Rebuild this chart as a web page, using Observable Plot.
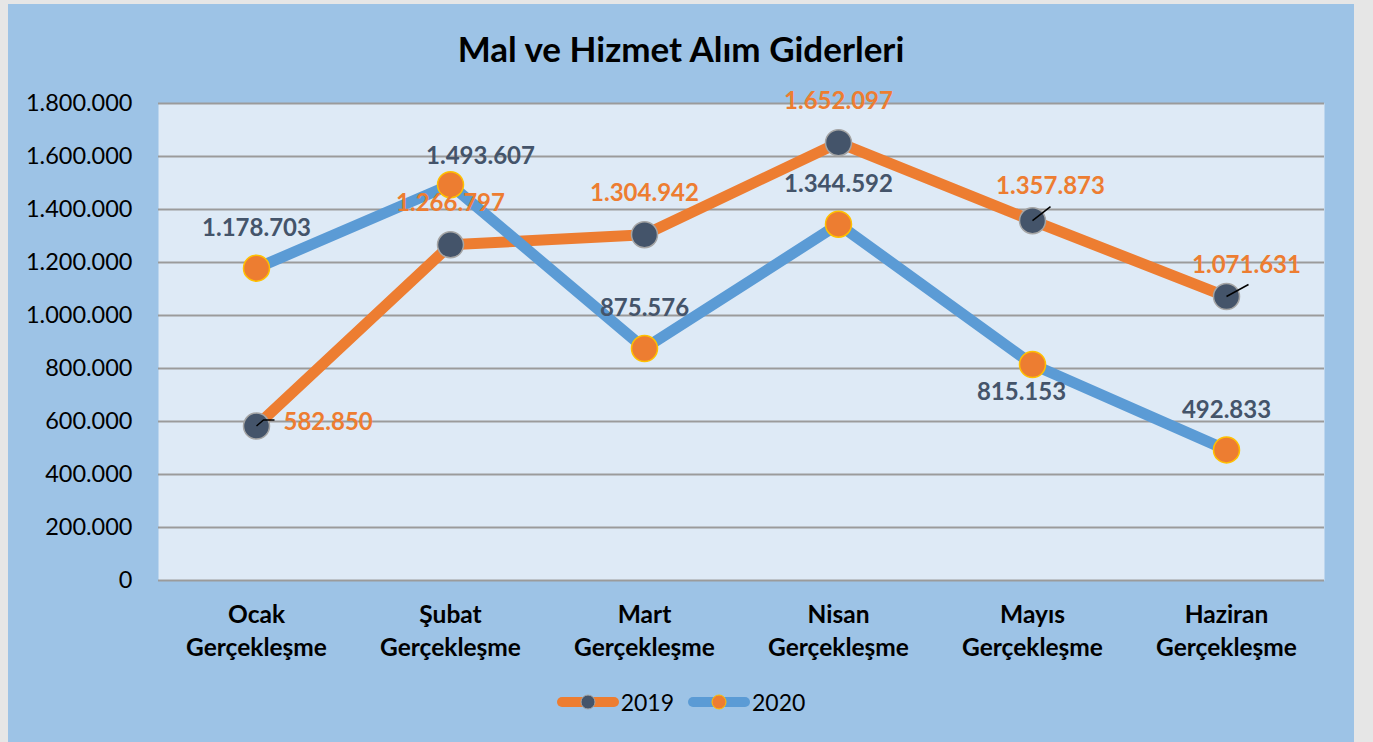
<!DOCTYPE html>
<html>
<head>
<meta charset="utf-8">
<script src="https://cdn.jsdelivr.net/npm/d3@7"></script>
<script src="https://cdn.jsdelivr.net/npm/@observablehq/plot@0.6"></script>
<style>
  html, body { margin: 0; padding: 0; background: #E6E6E6; width: 1373px; height: 742px; overflow: hidden; font-family: Lato, "Open Sans", sans-serif; }
  #panel { position: absolute; left: 8px; top: 4px; width: 1346px; height: 740px; background: #9DC3E6; }
  #title { position: absolute; left: 0; width: 1346px; top: 24px; text-align: center; font-weight: bold; font-size: 35px; color: #000; line-height: 40px; }
  #chart { position: absolute; left: 0; top: 60px; }
  #legend { position: absolute; top: 684px; left: 0; width: 1346px; display: flex; justify-content: center; align-items: center; gap: 14px; font-size: 23px; color: #000; }
  .item { display: flex; align-items: center; gap: 2px; }
</style>
</head>
<body>
<div id="panel">
  <div id="title">Mal ve Hizmet Alım Giderleri</div>
  <div id="chart"></div>
  <div id="legend"></div>
</div>
<script>
const months = ["Ocak", "Şubat", "Mart", "Nisan", "Mayıs", "Haziran"];
const values2019 = [582850, 1266797, 1304942, 1652097, 1357873, 1071631];
const values2020 = [1178703, 1493607, 875576, 1344592, 815153, 492833];
const yTicks = [0, 200000, 400000, 600000, 800000, 1000000, 1200000, 1400000, 1600000, 1800000];
const seriesNames = ["2019", "2020"];

const c = {
  orange: "#ED7D31", blue: "#5B9BD5", slate: "#44546A",
  gold: "#FFC000", markerEdge: "#A5A5A5", plotBg: "#DEEAF6", grid: "#9B9B9B"
};

const tr = d3.formatLocale({decimal: ",", thousands: ".", grouping: [3], currency: ["", ""]});
const fmt = tr.format(",d");

const d19 = months.map((m, i) => ({month: m, value: values2019[i]}));
const d20 = months.map((m, i) => ({month: m, value: values2020[i]}));

const leader = pts => ({draw(ctx) { ctx.moveTo(0, 0); pts.forEach(([a, b]) => ctx.lineTo(a, b)); }});

const lbl = {fontSize: 24, fontWeight: "bold", fontFamily: "Lato, 'Open Sans', sans-serif", text: d => fmt(d.value)};
const pick = names => d => names.includes(d.month);

const chart = Plot.plot({
  width: 1346,
  height: 610,
  marginTop: 39,
  marginBottom: 94,
  marginLeft: 150,
  marginRight: 30,
  style: {background: "transparent", fontFamily: "Lato, 'Open Sans', sans-serif"},
  x: {type: "point", domain: months, padding: 0.5},
  y: {domain: [0, 1800000]},
  marks: [
    Plot.frame({fill: c.plotBg, stroke: null}),
    Plot.gridY(yTicks, {stroke: c.grid, strokeOpacity: 1, strokeWidth: 2}),
    Plot.axisY(yTicks, {tickSize: 0, tickPadding: 26, fontSize: 23.5, tickFormat: fmt, fill: "#000", label: null}),
    Plot.axisX({tickSize: 0, tickPadding: 19, fontSize: 24.5, fontWeight: "bold", lineHeight: 1.35, fill: "#000", label: null,
      tickFormat: d => d + "\nGerçekleşme"}),
    Plot.line(d19, {x: "month", y: "value", stroke: c.orange, strokeWidth: 11, strokeLinejoin: "round"}),
    Plot.dot(d19, {x: "month", y: "value", r: 13, fill: c.slate, stroke: c.markerEdge, strokeWidth: 1.5}),
    Plot.line(d20, {x: "month", y: "value", stroke: c.blue, strokeWidth: 11, strokeLinejoin: "round"}),
    Plot.dot(d20, {x: "month", y: "value", r: 13, fill: c.orange, stroke: c.gold, strokeWidth: 1.5}),
    // leader lines
    Plot.dot(d19, {filter: pick(["Ocak"]), x: "month", y: "value", r: 1, symbol: leader([[7, -6], [18, -6]]), fill: "none", stroke: "#000", strokeWidth: 1.5}),
    Plot.dot(d19, {filter: pick(["Mayıs"]), x: "month", y: "value", r: 1, symbol: leader([[18, -14]]), fill: "none", stroke: "#000", strokeWidth: 1.5}),
    Plot.dot(d19, {filter: pick(["Haziran"]), x: "month", y: "value", r: 1, symbol: leader([[22, -12]]), fill: "none", stroke: "#000", strokeWidth: 1.5}),
    // 2019 labels
    Plot.text(d19, {...lbl, filter: pick(["Ocak"]), x: "month", y: "value", fill: c.orange, textAnchor: "start", dx: 27, dy: -4}),
    Plot.text(d19, {...lbl, filter: pick(["Şubat", "Mart", "Nisan"]), x: "month", y: "value", fill: c.orange, dy: -41}),
    Plot.text(d19, {...lbl, filter: pick(["Mayıs"]), x: "month", y: "value", fill: c.orange, dx: 18, dy: -34}),
    Plot.text(d19, {...lbl, filter: pick(["Haziran"]), x: "month", y: "value", fill: c.orange, dx: 20, dy: -31}),
    // 2020 labels
    Plot.text(d20, {...lbl, filter: pick(["Ocak", "Mart", "Nisan", "Haziran"]), x: "month", y: "value", fill: c.slate, dy: -40}),
    Plot.text(d20, {...lbl, filter: pick(["Şubat"]), x: "month", y: "value", fill: c.slate, dx: 30, dy: -28}),
    Plot.text(d20, {...lbl, filter: pick(["Mayıs"]), x: "month", y: "value", fill: c.slate, dx: -11, dy: 28})
  ]
});
document.getElementById("chart").appendChild(chart);

// legend
const legendSpec = [
  {name: seriesNames[0], line: c.orange, fill: c.slate, edge: c.markerEdge},
  {name: seriesNames[1], line: c.blue, fill: c.orange, edge: c.gold}
];
const legend = document.getElementById("legend");
legendSpec.forEach(s => {
  const item = document.createElement("div");
  item.className = "item";
  item.innerHTML = `<svg width="62" height="20"><line x1="5" y1="10" x2="57" y2="10" stroke="${s.line}" stroke-width="10" stroke-linecap="round"/><circle cx="31" cy="10" r="7" fill="${s.fill}" stroke="${s.edge}" stroke-width="1"/></svg><span>${s.name}</span>`;
  legend.appendChild(item);
});
</script>
</body>
</html>
